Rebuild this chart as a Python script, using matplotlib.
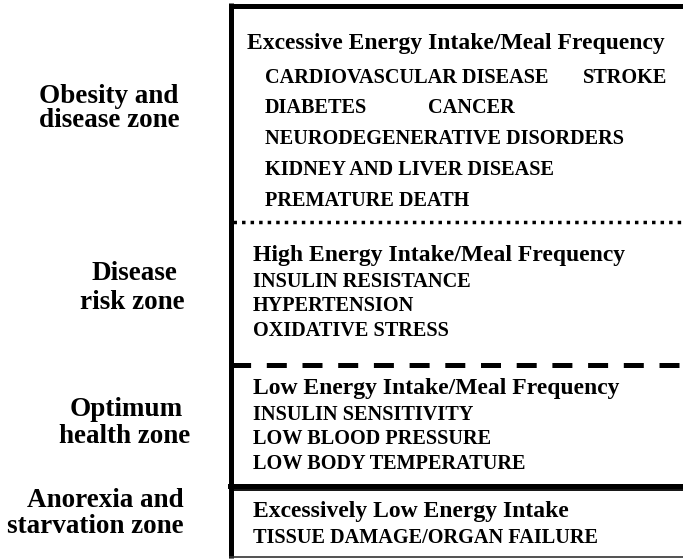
import matplotlib
matplotlib.use("Agg")
import matplotlib.pyplot as plt

plt.rcParams['font.family'] = ['Liberation Serif', 'DejaVu Serif']
plt.rcParams['font.weight'] = 'bold'

# zone labels on the left, one entry per line
zone_lines = ["Obesity and", "disease zone",
              "Disease", "risk zone",
              "Optimum", "health zone",
              "Anorexia and", "starvation zone"]
zone_x = [109, 109, 134, 132, 126, 125, 184, 184]
zone_y = [103, 127, 280, 309, 416, 443, 507, 533]
zone_ha = ["center"] * 6 + ["right", "right"]

# headers inside the box
headers = ["Excessive Energy Intake/Meal Frequency",
           "High Energy Intake/Meal Frequency",
           "Low Energy Intake/Meal Frequency",
           "Excessively Low Energy Intake"]
header_x = [247, 253, 253, 253]
header_y = [49, 261, 394, 517]

# effect items
items = ["CARDIOVASCULAR DISEASE", "STROKE", "DIABETES", "CANCER",
         "NEURODEGENERATIVE DISORDERS", "KIDNEY AND LIVER DISEASE",
         "PREMATURE DEATH",
         "INSULIN RESISTANCE", "HYPERTENSION", "OXIDATIVE STRESS",
         "INSULIN SENSITIVITY", "LOW BLOOD PRESSURE", "LOW BODY TEMPERATURE",
         "TISSUE DAMAGE/ORGAN FAILURE"]
item_x = [265, 583, 265, 428, 265, 265, 265,
          253, 253, 253, 253, 253, 253, 253]
item_y = [83, 83, 113, 113, 144, 175, 206,
          287, 311, 336, 420, 444, 469, 543]

# boundaries between zones
dotted_y = 221.5
dashed_y = 364.5
double_y = (485.5, 490.2)

fig = plt.figure(figsize=(6.83, 5.59), dpi=100)
ax = fig.add_axes([0, 0, 1, 1])
ax.set_xlim(0, 683)
ax.set_ylim(559, 0)
ax.axis('off')

# box outline
ax.plot([230.5, 230.5], [3, 558], color='black', lw=3.6, solid_capstyle='butt')
ax.plot([228.5, 683], [5.5, 5.5], color='black', lw=3.6, solid_capstyle='butt')
ax.plot([230, 683], [557, 557], color='#333333', lw=1.2)

ax.plot([233, 683], [dotted_y, dotted_y], color='black', lw=2.5,
        linestyle=(0, (1, 1.46)), dash_capstyle='butt')
ax.plot([233, 683], [dashed_y, dashed_y], color='black', lw=3.6,
        linestyle=(0.48, (4, 3.14)), dash_capstyle='butt')
ax.plot([230, 683], [double_y[0], double_y[0]], color='black', lw=3.6)
ax.plot([230, 683], [double_y[1], double_y[1]], color='black', lw=1.3)

for s, x, y, ha in zip(zone_lines, zone_x, zone_y, zone_ha):
    ax.text(x, y, s, fontsize=19.5, ha=ha, va='baseline', fontweight='bold')

for s, x, y in zip(headers, header_x, header_y):
    ax.text(x, y, s, fontsize=17, ha='left', va='baseline', fontweight='bold')

for s, x, y in zip(items, item_x, item_y):
    ax.text(x, y, s, fontsize=14.6, ha='left', va='baseline', fontweight='bold')

fig.savefig('out.png', dpi=100)
